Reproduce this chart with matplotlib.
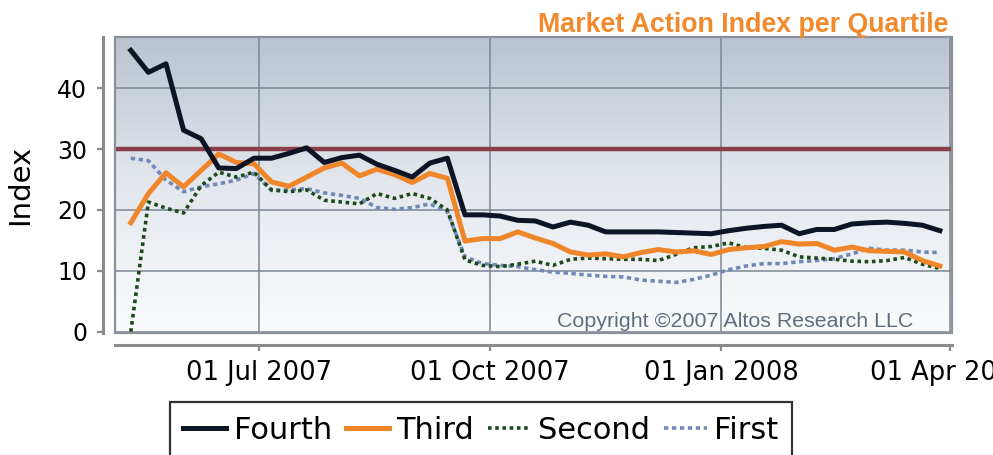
import matplotlib
matplotlib.use("Agg")
import matplotlib.pyplot as plt
import matplotlib.dates as mdates
from matplotlib.colors import LinearSegmentedColormap
from matplotlib.patches import Rectangle
import numpy as np
import pandas as pd

# weekly points, 11 May 2007 .. 28 Mar 2008
dates = pd.date_range("2007-05-11", periods=47, freq="7D")

fourth = [46.2, 42.6, 44.0, 33.1, 31.7, 26.9, 26.8, 28.5, 28.5, 29.3,
          30.2, 27.8, 28.6, 29.0, 27.5, 26.5, 25.4, 27.7, 28.5, 19.2,
          19.2, 19.0, 18.3, 18.2, 17.2, 18.0, 17.5, 16.4, 16.4, 16.4,
          16.4, 16.3, 16.2, 16.1, 16.6, 17.0, 17.3, 17.5, 16.1, 16.8,
          16.8, 17.7, 17.9, 18.0, 17.8, 17.5, 16.6]
third = [17.9, 22.7, 26.1, 23.8, 26.5, 29.2, 27.8, 27.6, 24.6, 23.9,
         25.4, 26.9, 27.7, 25.6, 26.7, 25.8, 24.5, 26.0, 25.2, 14.9,
         15.3, 15.3, 16.4, 15.4, 14.5, 13.1, 12.6, 12.8, 12.3, 13.0,
         13.5, 13.1, 13.3, 12.7, 13.5, 13.8, 14.0, 14.8, 14.4, 14.5,
         13.4, 13.9, 13.3, 13.2, 13.1, 11.7, 10.8]
second = [0.0, 21.3, 20.3, 19.5, 24.0, 26.2, 25.4, 26.2, 23.3, 23.0,
          23.3, 21.6, 21.3, 21.0, 22.7, 21.9, 22.7, 21.9, 20.0, 11.8,
          10.9, 10.7, 11.1, 11.6, 10.9, 11.9, 12.1, 12.0, 11.9, 11.9,
          11.7, 12.7, 13.8, 14.0, 14.6, 13.8, 13.7, 13.4, 12.3, 12.1,
          11.9, 11.6, 11.5, 11.7, 12.2, 11.1, 10.4]
first = [28.5, 28.1, 24.9, 23.0, 23.8, 24.3, 24.9, 26.0, 23.2, 23.3,
         23.5, 22.8, 22.4, 21.9, 20.4, 20.1, 20.4, 21.0, 19.7, 12.3,
         11.2, 10.9, 10.7, 10.2, 9.8, 9.6, 9.3, 9.1, 9.0, 8.5,
         8.3, 8.1, 8.6, 9.3, 10.2, 10.8, 11.2, 11.2, 11.5, 11.7,
         12.0, 12.8, 13.7, 13.4, 13.4, 13.1, 13.0]

threshold = 30
yticks = [0, 10, 20, 30, 40]
xticks = pd.to_datetime(["2007-07-01", "2007-10-01", "2008-01-01", "2008-04-01"])

fig = plt.figure(figsize=(9.93, 4.55), dpi=100)
ax = fig.add_axes([115 / 993, 122 / 455, 837 / 993, 296 / 455])

# gradient background of the plot area
cmap = LinearSegmentedColormap.from_list("bg", ["#fafbfc", "#e4e8ee", "#b9c3cf"])
grad = np.linspace(0, 1, 256).reshape(-1, 1)
ax.imshow(grad, extent=[0, 1, 0, 1], transform=ax.transAxes, origin="lower",
          aspect="auto", cmap=cmap, zorder=-2)

ax.axhline(threshold, color="#8b3d4b", lw=3.2, zorder=2)

ax.plot(dates, first, color="#7089b9", lw=2.6, ls=(0, (1.2, 1.0)), label="First", zorder=3)
ax.plot(dates, second, color="#1d4a1a", lw=2.6, ls=(0, (1.0, 1.0)), label="Second", zorder=4)
ax.plot(dates, third, color="#f0862a", lw=3.6, label="Third", zorder=5,
        solid_joinstyle="round")
ax.plot(dates, fourth, color="#0c1426", lw=3.6, label="Fourth", zorder=6,
        solid_joinstyle="round")

ax.set_xlim(mdates.date2num(pd.Timestamp("2007-05-04 17:00")),
            mdates.date2num(pd.Timestamp("2008-04-01 20:00")))
ax.set_ylim(-0.2, 48.4)
ax.set_yticks(yticks)
ax.set_xticks(xticks)
ax.xaxis.set_major_formatter(mdates.DateFormatter("%d %b %Y"))

ax.grid(True, color="#7b8694", lw=1.1)
ax.set_axisbelow(True)

for side in ["top", "right"]:
    ax.spines[side].set_visible(False)
for side in ["left", "bottom"]:
    ax.spines[side].set_position(("outward", 8.6))
    ax.spines[side].set_color("#8a8a8a")
    ax.spines[side].set_linewidth(2.2)

ax.add_patch(Rectangle((0, 0), 1, 1, transform=ax.transAxes, fill=False,
                       edgecolor="#8c9198", lw=1.6, clip_on=False, zorder=7))

ax.tick_params(axis="both", colors="#8a8a8a", width=1.6, length=4.5, labelcolor="black")
ax.tick_params(axis="y", labelsize=17, pad=7)
ax.tick_params(axis="x", labelsize=18.5, pad=6)

fig.text(20 / 993, 0.593, "Index", rotation=90, ha="center", va="center", fontsize=21)

fig.text(948 / 993, (455 - 32) / 455, "Market Action Index per Quartile",
         ha="right", va="baseline", fontsize=19.3, fontweight="bold",
         color="#f08a2c", family="Liberation Sans")

ax.text(0.9534, 0.02, "Copyright \u00a92007 Altos Research LLC", transform=ax.transAxes,
        ha="right", va="baseline", fontsize=15.4, color="#5f6e7f",
        family="Liberation Sans", zorder=8)

handles, labels = ax.get_legend_handles_labels()
order = [3, 2, 1, 0]
leg = fig.legend([handles[i] for i in order], [labels[i] for i in order],
                 loc="upper center", bbox_to_anchor=(481 / 993, (455 - 402) / 455),
                 ncol=4, fontsize=22, frameon=True, fancybox=False,
                 handlelength=1.4, handletextpad=0.25, columnspacing=0.45,
                 borderpad=0.45, borderaxespad=0)
leg.get_frame().set_edgecolor("black")
leg.get_frame().set_linewidth(1.6)

fig.savefig("out.png", dpi=100)
